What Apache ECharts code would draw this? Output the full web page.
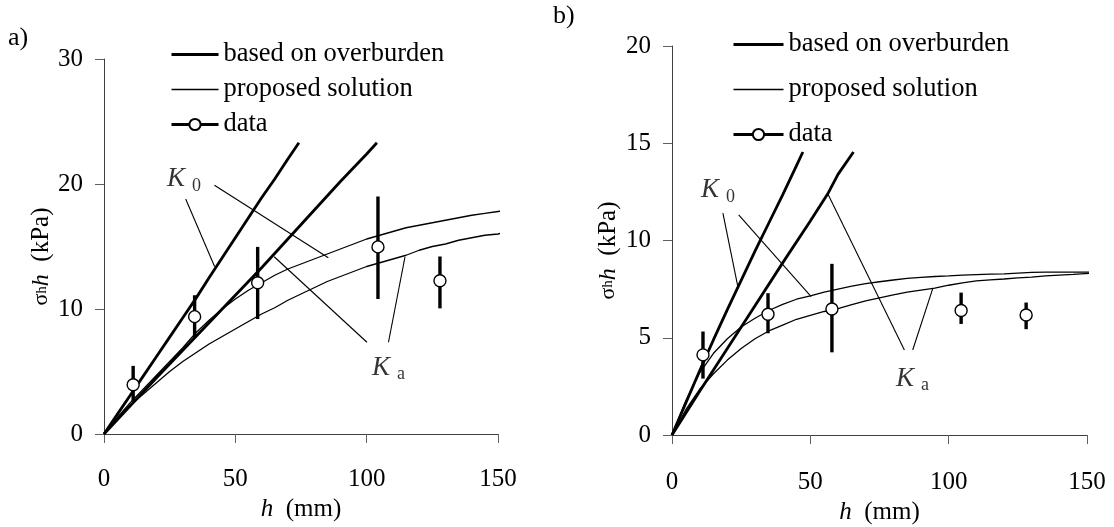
<!DOCTYPE html>
<html><head><meta charset="utf-8">
<script src="https://cdn.jsdelivr.net/npm/echarts@6/dist/echarts.min.js"></script>
<style>html,body{margin:0;padding:0;background:#fff}#c{width:1114px;height:527px}</style>
</head><body><div id="c"></div>
<script>
// ---------- data: panel a) ----------
const aDataX = [11.1, 34.5, 58.5, 104.3, 127.9];
const aDataY = [3.94, 9.39, 12.1, 14.97, 12.26];
const aErrLow = [2.6, 7.7, 9.2, 10.8, 10.05];
const aErrHigh = [5.45, 11.1, 14.97, 19.0, 14.2];
const aOverK0 = [[0,0],[5,1.55],[10,3.1],[15,4.65],[20,6.2],[25,7.75],[30,9.3],[35,10.85],[40,12.5],[45,14.1],[50,15.7],[55,17.3],[60,18.9],[65,20.4],[70,22.0],[74.2,23.3]];
const aOverKa = [[0,0],[10,2.25],[20,4.5],[30,6.7],[40,8.9],[50,11.1],[60,13.3],[70,15.6],[80,17.9],[90,20.2],[100,22.4],[103.9,23.3]];
const aPropK0 = [[0,0],[5,1.3],[10,2.5],[15,3.6],[20,4.7],[25,5.8],[30,6.9],[35,8.1],[40,9.1],[45,10.0],[50,10.8],[55,11.5],[60,12.1],[65,12.7],[70,13.2],[75,13.6],[80,14.0],[85,14.4],[90,14.8],[95,15.2],[100,15.6],[105,15.9],[110,16.2],[115,16.5],[120,16.7],[125,16.9],[130,17.1],[135,17.3],[140,17.5],[145,17.65],[150,17.8],[152,17.85]];
const aPropKa = [[0,0],[5,1.2],[10,2.3],[15,3.2],[20,4.1],[25,5.0],[30,5.8],[35,6.5],[40,7.2],[45,7.8],[50,8.4],[55,9.0],[60,9.6],[65,10.1],[70,10.7],[75,11.2],[80,11.7],[85,12.2],[90,12.6],[95,13.0],[100,13.4],[105,13.7],[110,14.0],[115,14.3],[120,14.7],[125,15.0],[130,15.2],[135,15.5],[140,15.7],[145,15.9],[150,16.0],[152,16.1]];
const aLeaders = [[[31.1,18.8],[42.1,13.4]], [[42.05,19.9],[85.4,14.1]], [[100.1,7.34],[64.8,14.18]], [[108.3,7.34],[114.6,14.18]]];
const aLabels = [[24.0, 20.4, 'K', '0'], [102, 5.3, 'K', 'a']];

// ---------- data: panel b) ----------
const bDataX = [11.2, 34.7, 57.8, 104.5, 128];
const bDataY = [4.12, 6.21, 6.48, 6.4, 6.17];
const bErrLow = [2.9, 5.23, 4.25, 5.71, 5.44];
const bErrHigh = [5.32, 7.29, 8.8, 7.32, 6.81];
const bOverK0 = [[0,0],[5,1.65],[10,3.3],[15,4.9],[20,6.45],[25,7.95],[30,9.45],[35,10.9],[40,12.35],[45,13.85],[47.3,14.55]];
const bOverKa = [[0,0],[10,2.25],[20,4.45],[30,6.65],[40,8.85],[50,11.0],[56.3,12.4],[60,13.4],[65.6,14.55]];
const bPropK0 = [[0,0],[5,1.75],[10,3.2],[15,4.2],[20,4.95],[25,5.55],[30,6.0],[35,6.4],[40,6.72],[45,6.98],[50,7.15],[55,7.35],[60,7.5],[65,7.65],[70,7.78],[75,7.88],[80,7.97],[85,8.05],[90,8.1],[95,8.15],[100,8.18],[105,8.22],[110,8.25],[115,8.27],[120,8.28],[125,8.32],[130,8.36],[135,8.37],[140,8.37],[145,8.37],[152,8.37]];
const bPropKa = [[0,0],[5,1.3],[10,2.35],[15,3.15],[20,3.85],[25,4.45],[30,4.95],[35,5.35],[40,5.65],[45,5.95],[50,6.15],[55,6.35],[60,6.5],[65,6.7],[70,6.9],[75,7.05],[80,7.2],[85,7.35],[90,7.45],[95,7.55],[100,7.7],[105,7.82],[110,7.92],[115,7.98],[120,8.02],[125,8.08],[130,8.12],[135,8.18],[140,8.22],[145,8.26],[152,8.32]];
const bLeaders = [[[18.4,11.41],[23.8,7.63]], [[24.1,11.32],[50.3,7.12]], [[56.3,12.4],[84,4.37]], [[94.3,7.55],[87.0,4.37]]];
const bLabels = [[10.5, 12.6, 'K', '0'], [81, 2.9, 'K', 'a']];

const names = ['based on overburden', 'proposed solution', 'data'];

// ---------- build ----------
const FF = 'Liberation Serif';
const chart = echarts.init(document.getElementById('c'), null, {renderer: 'canvas'});

function curve(name, data, g, w) {
  return {type: 'line', name, xAxisIndex: g, yAxisIndex: g, data, symbol: 'none', showSymbol: false,
    clip: false, silent: true, lineStyle: {color: '#000', width: w}, itemStyle: {color: '#000', opacity: 0}, z: 2};
}
function leader(data, g) {
  return {type: 'line', xAxisIndex: g, yAxisIndex: g, data, symbol: 'none', silent: true, clip: false,
    lineStyle: {color: '#000', width: 1.1}, z: 2};
}
function errBars(xs, lo, hi, g) {
  return {type: 'custom', xAxisIndex: g, yAxisIndex: g, silent: true, z: 3, clip: false,
    data: xs.map((x, i) => [x, lo[i], hi[i]]), encode: {x: 0, y: [1, 2]},
    renderItem: (p, api) => {
      const a = api.coord([api.value(0), api.value(1)]);
      const b = api.coord([api.value(0), api.value(2)]);
      return {type: 'line', shape: {x1: a[0], y1: a[1], x2: b[0], y2: b[1]}, style: {stroke: '#000', lineWidth: 3.4}};
    }};
}
function points(xs, ys, g) {
  return {type: 'line', name: 'data', xAxisIndex: g, yAxisIndex: g, data: xs.map((x, i) => [x, ys[i]]),
    symbol: 'circle', symbolSize: 12, showSymbol: true, showAllSymbol: true, silent: true, clip: false,
    lineStyle: {color: '#000', width: 3, opacity: 0},
    itemStyle: {color: '#fff', borderColor: '#000', borderWidth: 1.4}, z: 5};
}
function labels(arr, g) {
  return {type: 'scatter', xAxisIndex: g, yAxisIndex: g, symbolSize: 0, silent: true, z: 6,
    data: arr.map(d => ({value: [d[0], d[1]], main: d[2], sub: d[3]})),
    label: {show: true, position: 'inside', align: 'left', verticalAlign: 'middle',
      formatter: p => '{k|' + p.data.main + '}{s|' + p.data.sub + '}',
      rich: {k: {fontFamily: FF, fontStyle: 'italic', fontSize: 27, color: '#000'},
             s: {fontFamily: FF, fontSize: 18, color: '#000', padding: [14, 0, 0, 7]}}}};
}

function panelSeries(g, over0, overA, prop0, propA, lead, xs, ys, lo, hi, lab) {
  const s = [];
  lead.forEach(l => s.push(leader(l, g)));
  s.push(curve(names[1], prop0, g, 1.3));
  s.push(curve(names[1], propA, g, 1.3));
  s.push(curve(names[0], over0, g, 2.8));
  s.push(curve(names[0], overA, g, 2.8));
  s.push(errBars(xs, lo, hi, g));
  s.push(points(xs, ys, g));
  s.push(labels(lab, g));
  return s;
}

const axisLineStyle = {lineStyle: {color: '#404040', width: 1}};
const tickStyle = {show: true, inside: false, length: 9, lineStyle: {color: '#606060'}};
const labStyle = {fontFamily: FF, fontSize: 25, color: '#000'};

function xAx(g, margin, gap) {
  return {type: 'value', gridIndex: g, min: 0, max: 150, interval: 50, splitLine: {show: false},
    axisLine: axisLineStyle, axisTick: tickStyle, axisLabel: Object.assign({margin}, labStyle),
    name: '{i|h}{n|  (mm)}', nameLocation: 'middle', nameGap: gap,
    nameTextStyle: {fontFamily: FF, rich: {i: {fontFamily: FF, fontStyle: 'italic', fontSize: 25, color: '#000'},
                           n: {fontFamily: FF, fontSize: 25, color: '#000'}}}};
}
function yAx(g, max, interval, gap) {
  return {type: 'value', gridIndex: g, min: 0, max, interval, splitLine: {show: false},
    axisLine: Object.assign({show: true}, axisLineStyle), axisTick: tickStyle,
    axisLabel: Object.assign({margin: 21}, labStyle),
    name: '{s|σ}{sub|h}{i|h}{n|  (kPa)}', nameLocation: 'middle', nameRotate: 90, nameGap: gap,
    nameTextStyle: {fontFamily: FF, padding: [0, 20, 0, 0], rich: {
      s: {fontFamily: FF, fontSize: 22, color: '#000'},
      sub: {fontFamily: FF, fontSize: 15, color: '#000'},
      i: {fontFamily: FF, fontStyle: 'italic', fontSize: 24, color: '#000'},
      n: {fontFamily: FF, fontSize: 25, color: '#000'}}}};
}

function legendFor(left, top, w, gap) {
  return {left, top, orient: 'vertical', itemWidth: w, itemHeight: 14, itemGap: gap, padding: 0,
    selectedMode: false, textStyle: {fontFamily: FF, fontSize: 26.5, color: '#000', lineHeight: 25},
    data: [{name: names[0], itemStyle: {opacity: 0}, lineStyle: {width: 3, color: '#000', opacity: 1}},
           {name: names[1], itemStyle: {opacity: 0}, lineStyle: {width: 1.3, color: '#000', opacity: 1}},
           {name: names[2], lineStyle: {width: 3, opacity: 1, color: '#000'}}]};
}

const option = {
  animation: false,
  backgroundColor: '#fff',
  textStyle: {fontFamily: FF},
  title: [
    {text: 'a)', left: 8, top: 25, padding: 0, textStyle: {fontFamily: FF, fontSize: 26, fontWeight: 'normal', color: '#000'}},
    {text: 'b)', left: 553, top: 3, padding: 0, textStyle: {fontFamily: FF, fontSize: 26, fontWeight: 'normal', color: '#000'}}
  ],
  legend: [legendFor(170, 41, 47, 8), legendFor(732, 31, 50, 18)],
  grid: [
    {left: 104, top: 59, width: 394, height: 375, outerBoundsMode: 'none', containLabel: false},
    {left: 672, top: 46, width: 415, height: 389, outerBoundsMode: 'none', containLabel: false}
  ],
  xAxis: [xAx(0, 33, 61), xAx(1, 35, 65)],
  yAxis: [yAx(0, 30, 10, 36), yAx(1, 20, 5, 51)],
  series: [].concat(
    panelSeries(0, aOverK0, aOverKa, aPropK0, aPropKa, aLeaders, aDataX, aDataY, aErrLow, aErrHigh, aLabels),
    panelSeries(1, bOverK0, bOverKa, bPropK0, bPropKa, bLeaders, bDataX, bDataY, bErrLow, bErrHigh, bLabels)
  )
};
chart.setOption(option);
</script></body></html>
